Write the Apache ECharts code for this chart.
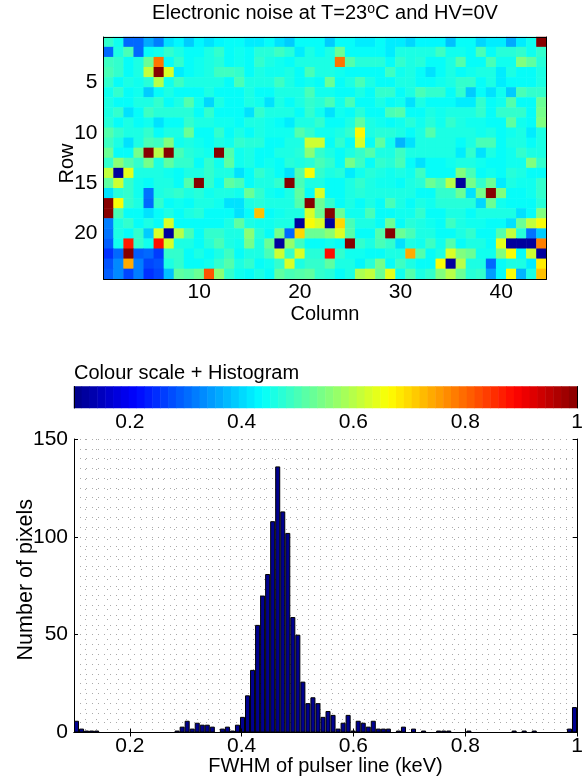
<!DOCTYPE html>
<html>
<head>
<meta charset="utf-8">
<style>
  html, body { margin: 0; padding: 0; background: #fff; }
  #chart { width: 587px; height: 782px; }
</style>
<script src="https://cdn.jsdelivr.net/npm/echarts@6/dist/echarts.min.js"></script>
</head>
<body>
<div id="chart"></div>
<script>
// pixel noise map, rows 1..24, columns 1..44 (FWHM in keV)
const noiseRows = [
  [.48,.45,.30,.30,.36,.32,.41,.43,.39,.43,.41,.43,.44,.44,.42,.42,.44,.41,.39,.44,.44,.44,.39,.44,.44,.42,.42,.44,.42,.42,.40,.43,.43,.43,.38,.44,.44,.40,.42,.42,.36,.42,.45,1],
  [.30,.46,.50,.30,.44,.45,.48,.46,.44,.44,.46,.48,.44,.45,.44,.47,.47,.49,.47,.42,.46,.44,.46,.53,.44,.44,.44,.44,.42,.46,.46,.46,.46,.49,.45,.45,.44,.50,.44,.47,.47,.48,.45,.48],
  [.49,.48,.44,.46,.53,.79,.44,.48,.44,.45,.46,.47,.44,.45,.44,.48,.46,.45,.44,.46,.46,.46,.46,.79,.51,.47,.47,.47,.44,.48,.46,.47,.44,.44,.46,.51,.44,.44,.50,.45,.45,.55,.52,.47],
  [.50,.48,.44,.46,.61,1,.63,.42,.44,.45,.46,.49,.49,.48,.44,.46,.45,.45,.46,.44,.50,.46,.46,.45,.44,.44,.44,.44,.49,.45,.46,.44,.41,.44,.46,.44,.45,.46,.46,.42,.46,.44,.44,.46],
  [.48,.44,.46,.45,.47,.60,.45,.49,.46,.46,.46,.46,.44,.50,.46,.46,.46,.49,.46,.44,.45,.44,.53,.44,.46,.50,.46,.44,.44,.46,.46,.44,.44,.45,.46,.48,.48,.44,.46,.42,.44,.44,.44,.46],
  [.45,.48,.44,.45,.39,.44,.46,.44,.44,.44,.46,.44,.44,.44,.46,.44,.44,.46,.46,.46,.50,.45,.45,.44,.44,.46,.44,.48,.48,.44,.46,.50,.48,.48,.44,.48,.39,.44,.41,.45,.39,.50,.48,.48],
  [.46,.44,.44,.46,.46,.48,.44,.46,.51,.45,.40,.46,.44,.44,.46,.45,.41,.46,.44,.46,.48,.47,.50,.45,.50,.44,.44,.46,.44,.45,.41,.46,.44,.44,.44,.42,.42,.48,.44,.45,.51,.44,.44,.53],
  [.46,.48,.41,.44,.49,.47,.47,.47,.47,.44,.48,.44,.44,.44,.41,.48,.46,.46,.46,.44,.48,.45,.41,.45,.44,.47,.44,.44,.50,.51,.44,.44,.46,.45,.46,.46,.46,.48,.44,.48,.48,.48,.44,.54],
  [.47,.44,.46,.44,.45,.41,.44,.44,.48,.46,.46,.45,.45,.44,.46,.46,.45,.44,.42,.46,.46,.48,.44,.44,.46,.52,.46,.45,.44,.45,.47,.45,.47,.45,.48,.46,.45,.45,.44,.44,.52,.45,.44,.55],
  [.51,.48,.46,.46,.48,.44,.46,.46,.53,.44,.44,.48,.44,.46,.44,.46,.45,.45,.45,.51,.48,.45,.45,.46,.48,.67,.46,.47,.47,.46,.44,.46,.51,.46,.46,.46,.46,.45,.46,.44,.45,.46,.42,.46],
  [.49,.46,.41,.46,.50,.49,.55,.45,.46,.45,.44,.46,.45,.48,.47,.47,.44,.44,.46,.46,.62,.62,.44,.48,.44,.63,.44,.52,.45,.37,.41,.46,.46,.46,.46,.44,.46,.50,.50,.44,.46,.46,.44,.46],
  [.53,.44,.44,.54,1,.60,1,.50,.47,.46,.45,1,.51,.45,.46,.44,.44,.46,.46,.47,.56,.48,.46,.44,.46,.48,.51,.46,.46,.49,.46,.46,.46,.46,.46,.42,.48,.41,.46,.44,.45,.48,.46,.46],
  [.48,.56,.51,.48,.54,.46,.52,.48,.48,.44,.48,.45,.52,.45,.46,.44,.45,.44,.47,.46,.47,.50,.48,.44,.54,.49,.44,.48,.47,.50,.44,.41,.44,.44,.45,.46,.46,.45,.44,.44,.45,.45,.55,.48],
  [.61,.12,.64,.46,.46,.46,.45,.44,.46,.46,.48,.46,.46,.41,.44,.48,.46,.44,.41,.51,.66,.48,.46,.47,.42,.45,.47,.46,.45,.46,.45,.49,.44,.44,.44,.55,.50,.44,.45,.44,.47,.46,.44,.44],
  [.52,.62,.48,.45,.44,.46,.46,.44,.51,1,.48,.44,.52,.50,.44,.46,.46,.48,1,.50,.46,.46,.44,.44,.46,.48,.46,.45,.45,.44,.46,.47,.53,.50,.60,.12,.54,.48,.53,.42,.46,.45,.45,.48],
  [.41,.47,.48,.45,.31,.46,.47,.48,.46,.47,.45,.46,.46,.45,.53,.48,.45,.44,.46,.52,.44,.63,.44,.44,.46,.47,.46,.46,.46,.46,.46,.44,.44,.48,.48,.53,.41,.54,1,.55,.44,.44,.45,.48],
  [1,.66,.48,.46,.30,.48,.44,.45,.44,.46,.46,.45,.41,.41,.46,.47,.46,.46,.46,.51,1,.53,.48,.44,.46,.44,.46,.44,.50,.46,.44,.46,.45,.47,.47,.47,.47,.40,.53,.45,.44,.44,.44,.47],
  [1,.50,.44,.44,.41,.44,.46,.44,.46,.47,.44,.44,.44,.41,.44,.72,.44,.45,.46,.46,.63,.53,1,.53,.45,.45,.50,.44,.44,.45,.45,.48,.44,.44,.46,.46,.44,.46,.46,.46,.46,.41,.44,.55],
  [.32,.46,.48,.44,.46,.44,.63,.44,.44,.44,.44,.44,.46,.52,.46,.45,.45,.46,.46,.12,.66,.63,.12,.70,.50,.46,.46,.44,.53,.44,.47,.46,.45,.44,.49,.46,.45,.45,.44,.44,.41,.53,.61,.66],
  [.31,.46,.44,.48,.39,.63,.12,.60,.50,.44,.48,.48,.46,.46,.56,.47,.44,.54,.30,.70,.53,.53,.56,.63,.51,.44,.44,.51,1,.53,.50,.46,.46,.44,.44,.46,.48,.44,.44,.51,.61,.47,.31,.39],
  [.29,.45,.87,.48,.45,.88,.63,.46,.46,.44,.47,.50,.46,.45,.54,.46,.53,.12,.57,.49,.44,.44,.45,.44,1,.48,.46,.50,.48,.41,.46,.45,.49,.45,.51,.44,.46,.46,.44,.64,.12,.12,.12,.78],
  [.25,.30,1,.29,.30,.26,.48,.48,.44,.46,.44,.46,.49,.44,.46,.46,.50,.62,.48,.63,.47,.47,.88,.48,.45,.45,.44,.44,.46,.46,.74,.51,.44,.46,.63,.55,.53,.45,.45,.55,.66,.44,.62,.12],
  [.28,.33,.74,.32,.27,.28,.46,.48,.44,.44,.45,.48,.51,.46,.48,.44,.45,.48,.63,.46,.48,.48,.52,.46,.46,.43,.47,.54,.44,.49,.46,.44,.44,.66,.12,.60,.46,.46,.30,.44,.46,.46,.42,.68],
  [.29,.33,.27,.32,.25,.27,.38,.52,.51,.53,.82,.56,.48,.45,.44,.46,.44,.52,.50,.51,.52,.48,.47,.44,.46,.59,.61,.53,.64,.45,.51,.46,.48,.55,.60,.53,.47,.48,.35,.44,.66,.37,.46,.72]
];
// histogram counts, 100 bins between 0.1 and 1 keV
const histCounts = [
  6,2,1,1,1,0,0,0,0,0,0,0,0,0,0,0,0,0,0,0,
  1,3,6,2,5,4,4,3,0,2,3,1,4,8,19,32,55,70,81,108,
  136,113,102,59,50,26,15,18,15,8,11,9,2,5,9,1,6,5,3,6,
  2,2,2,0,1,3,0,2,0,1,0,0,1,1,1,0,0,0,1,0,
  0,0,0,0,0,0,0,1,0,1,0,1,0,0,0,0,0,0,2,13
];
const colTicks = [10, 20, 30, 40];
const rowTicks = [5, 10, 15, 20];
const fwhmTicks = [0.2, 0.4, 0.6, 0.8, 1];
const countTicks = [0, 50, 100, 150];

const vMin = 0.1, vMax = 1;
const font = '"Liberation Sans", Arial, sans-serif';

// matlab jet, 64 levels
const clamp = (x) => Math.max(0, Math.min(1, x));
const jet = [];
for (let i = 0; i < 64; i++) {
  const t = (i + 0.5) / 64;
  const c = [3, 2, 1].map((k) => Math.round(255 * clamp(1.5 - Math.abs(4 * t - k))));
  jet.push(`rgb(${c.join(",")})`);
}

const columns = noiseRows[0].map((_, i) => String(i + 1));
const rows = noiseRows.map((_, i) => String(i + 1));
const noiseCells = [];
noiseRows.forEach((r, y) => r.forEach((v, x) => noiseCells.push([x, y, v])));
const scaleCells = jet.map((_, i) => [i, 0, vMin + ((i + 0.5) / 64) * (vMax - vMin)]);
const binLabels = histCounts.map((_, i) => String(i));

const line = { lineStyle: { color: "#000", width: 1 } };
const label = { color: "#000", fontFamily: font, fontSize: 21 };
const nameStyle = { color: "#000", fontFamily: font, fontSize: 20 };
const hidden = { axisLine: { show: false }, axisTick: { show: false }, axisLabel: { show: false }, splitLine: { show: false } };
const frame = (extra) => ({
  axisLine: line,
  axisTick: { inside: true, length: 4, ...line, ...extra },
  axisLabel: { show: false },
  splitLine: { show: false }
});
const catTicks = (list) => frame({ alignWithLabel: true, interval: (i) => list.includes(i + 1) });
const valTicks = (list) => frame({ customValues: list });

const option = {
  animation: false,
  backgroundColor: "#fff",
  textStyle: { fontFamily: font },
  title: [
    {
      text: "{a|Electronic noise at T=23}{s|o}{a|C and HV=0V}",
      left: 325, top: 2, padding: 0, textAlign: "center",
      textStyle: {
        fontWeight: "normal",
        rich: {
          a: { fontFamily: font, fontSize: 20, fontWeight: "normal", color: "#000", lineHeight: 22 },
          s: { fontFamily: font, fontSize: 14, fontWeight: "normal", color: "#000", verticalAlign: "top", lineHeight: 16, padding: [0, 0, 4, 0] }
        }
      }
    },
    {
      text: "Colour scale + Histogram",
      left: 74, top: 363, padding: 0,
      textStyle: { fontFamily: font, fontSize: 20, fontWeight: "normal", color: "#000" }
    }
  ],
  visualMap: {
    show: false, type: "continuous", min: vMin, max: vMax,
    seriesIndex: [0, 1], inRange: { color: jet }
  },
  grid: [
    { left: 103.5, top: 37, width: 443, height: 242 },
    { left: 74, top: 386.5, width: 503, height: 21.5 },
    { left: 74, top: 439, width: 503, height: 293.5 }
  ],
  xAxis: [
    {
      gridIndex: 0, type: "category", data: columns, position: "bottom", z: 5,
      ...catTicks(colTicks),
      name: "Column", nameLocation: "middle", nameGap: 25, nameMoveOverlap: false, nameTextStyle: nameStyle,
      axisLabel: { ...label, margin: 3, interval: (i) => colTicks.includes(i + 1) }
    },
    { gridIndex: 0, type: "category", data: columns, position: "top", z: 5, ...catTicks(colTicks) },
    { gridIndex: 1, type: "category", data: jet.map((_, i) => String(i)), ...hidden },
    {
      gridIndex: 1, type: "value", min: vMin, max: vMax, position: "bottom", z: 5,
      ...valTicks(fwhmTicks),
      axisLabel: { ...label, margin: 4, customValues: fwhmTicks }
    },
    { gridIndex: 1, type: "value", min: vMin, max: vMax, position: "top", z: 5, ...valTicks(fwhmTicks) },
    { gridIndex: 2, type: "category", data: binLabels, ...hidden },
    {
      gridIndex: 2, type: "value", min: vMin, max: vMax, position: "bottom", z: 5,
      ...valTicks(fwhmTicks),
      name: "FWHM of pulser line (keV)", nameLocation: "middle", nameGap: 23.5, nameMoveOverlap: false, nameTextStyle: nameStyle,
      axisLabel: { ...label, margin: 3, customValues: fwhmTicks }
    },
    { gridIndex: 2, type: "value", min: vMin, max: vMax, position: "top", z: 5, ...valTicks(fwhmTicks) },
    // dotted grid only
    {
      gridIndex: 2, type: "value", min: vMin, max: vMax, interval: 0.02, ...hidden,
      splitLine: { show: true, lineStyle: { color: "#aaa", width: 1, type: [1, 9] } }
    }
  ],
  yAxis: [
    {
      gridIndex: 0, type: "category", data: rows, inverse: true, position: "left", z: 5,
      ...catTicks(rowTicks),
      name: "Row", nameLocation: "middle", nameGap: 26.5, nameMoveOverlap: false,
      nameTextStyle: { ...nameStyle, padding: [0, 11, 0, 0] },
      axisLabel: { ...label, margin: 6, interval: (i) => rowTicks.includes(i + 1) }
    },
    { gridIndex: 0, type: "category", data: rows, inverse: true, position: "right", z: 5, ...catTicks(rowTicks) },
    { gridIndex: 1, type: "category", data: ["0"], position: "left", z: 5, axisLine: line, axisTick: { show: false }, axisLabel: { show: false }, splitLine: { show: false } },
    { gridIndex: 1, type: "category", data: ["0"], position: "right", z: 5, axisLine: line, axisTick: { show: false }, axisLabel: { show: false }, splitLine: { show: false } },
    {
      gridIndex: 2, type: "value", min: 0, max: 150, position: "left", z: 5,
      ...valTicks(countTicks),
      name: "Number of pixels", nameLocation: "middle", nameGap: 37, nameMoveOverlap: false,
      nameTextStyle: { ...nameStyle, fontSize: 21.5, padding: [0, 0, 0, 12] },
      axisLabel: { ...label, margin: 6, customValues: countTicks }
    },
    { gridIndex: 2, type: "value", min: 0, max: 150, position: "right", z: 5, ...valTicks(countTicks) },
    // dotted grid only
    {
      gridIndex: 2, type: "value", min: 0, max: 150, interval: 5, ...hidden,
      splitLine: { show: true, lineStyle: { color: "#aaa", width: 1, type: [1, 5] } }
    }
  ],
  series: [
    { type: "heatmap", xAxisIndex: 0, yAxisIndex: 0, data: noiseCells, progressive: 0 },
    { type: "heatmap", xAxisIndex: 2, yAxisIndex: 2, data: scaleCells, progressive: 0 },
    {
      type: "bar", xAxisIndex: 5, yAxisIndex: 4, data: histCounts, barWidth: "100%", z: 3,
      itemStyle: { color: "#00008f", borderColor: "#000", borderWidth: 1 }
    }
  ]
};

const chart = echarts.init(document.getElementById("chart"), null, { renderer: "canvas" });
chart.setOption(option);
</script>
</body>
</html>
